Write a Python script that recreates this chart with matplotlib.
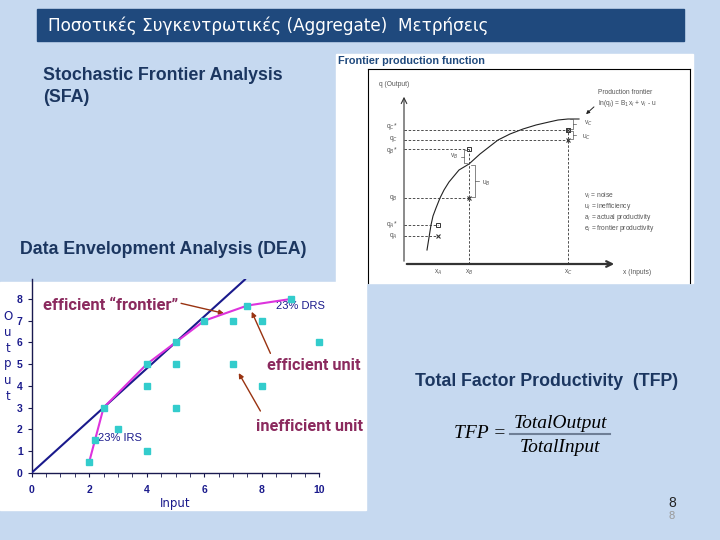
import numpy as np
import matplotlib.pyplot as plt
from matplotlib.patches import Rectangle
from matplotlib.ticker import MultipleLocator

plt.rcParams['font.family'] = ['Liberation Sans', 'DejaVu Sans']

# ---- DEA data (input / output per unit) ----
dea_input = [2, 2.2, 2.5, 3, 4, 4, 4, 5, 5, 5, 6, 7, 7, 7.5, 8, 8, 9, 10]
dea_output = [0.5, 1.5, 3, 2, 5, 4, 1, 6, 5, 3, 7, 7, 5, 7.7, 7, 4, 8, 6]
vrs_input = [2, 2.2, 2.5, 4, 5, 6, 7.5, 9]
vrs_output = [0.5, 1.5, 3, 5, 6, 7, 7.7, 8]
crs_slope = 1.2
dea_xticks = [0, 2, 4, 6, 8, 10]
dea_yticks = [0, 1, 2, 3, 4, 5, 6, 7, 8]

# ---- SFA sketch data ----
sfa_x = [2.3, 2.7, 2.9, 3.2, 3.6, 4.0, 4.5, 5.5, 6.5, 7.6, 9.4, 10.6, 11.9, 13.2, 14.5, 15.4, 16.4, 17.5]
sfa_q = [1.4, 3.9, 4.8, 5.6, 6.6, 7.4, 8.2, 9.4, 10.0, 11.0, 12.4, 13.0, 13.5, 13.9, 14.2, 14.4, 14.5, 14.5]
xA, xB, xC = 3.4, 6.5, 16.4
qA, qA_s, qB, qB_s, qC, qC_s = 2.8, 3.9, 6.6, 11.5, 12.4, 13.4
qB_front, qC_front = 10.0, 14.5

bg = '#c6d9f0'
navy = '#1b3660'
fig = plt.figure(figsize=(7.2, 5.4), dpi=100, facecolor=bg)

# overlay axes in pixel units for the slide
ax0 = fig.add_axes([0, 0, 1, 1], zorder=0)
ax0.set_xlim(0, 720)
ax0.set_ylim(540, 0)
ax0.axis('off')
ax0.add_patch(Rectangle((37, 9), 647, 32, color='#1f497d'))
ax0.text(48, 25.5, 'Ποσοτικές Συγκεντρωτικές (Aggregate)  Μετρήσεις', color='white',
         fontsize=12.2, va='center', family=['DejaVu Sans'])
ax0.add_patch(Rectangle((336, 54), 357, 229, color='white'))
ax0.add_patch(Rectangle((0, 282), 366, 228, color='white'))
ax0.text(338, 61, 'Frontier production function', color='#1f497d', fontsize=7.8,
         fontweight='bold', va='center')
ax0.text(43, 75, 'Stochastic Frontier Analysis', color=navy, fontsize=12.8,
         fontweight='bold', va='center')
ax0.text(43, 97, '(SFA)', color=navy, fontsize=12.8, fontweight='bold', va='center')
ax0.text(20, 250, 'Data Envelopment Analysis (DEA)', color=navy, fontsize=12.8,
         fontweight='bold', va='center')
ax0.text(415, 381, 'Total Factor Productivity  (TFP)', color=navy, fontsize=12.8,
         fontweight='bold', va='center')
serif = ['Liberation Serif', 'DejaVu Serif']
ax0.text(506, 434, 'TFP =', fontsize=14, style='italic', family=serif, ha='right', va='center')
ax0.text(560, 423, 'TotalOutput', fontsize=14, style='italic', family=serif, ha='center', va='center')
ax0.text(560, 448, 'TotalInput', fontsize=14, style='italic', family=serif, ha='center', va='center')
ax0.plot([510, 610], [434, 434], color='#6f7f96', lw=1.5)
ax0.text(672, 503, '8', fontsize=10, color='#222222', ha='center', va='center')
ax0.text(672, 516, '8', fontsize=8, color='#999999', ha='center', va='center')
for i, ch in enumerate('Output'):
    ax0.text(8, 316 + i * 16, ch, fontsize=8.5, color='#1a1a8c', ha='center', va='center',
             family=['DejaVu Sans'])

# ---- SFA sketch ----
ax1 = fig.add_axes([368 / 720, 1 - 283 / 540, 322 / 720, 214 / 540], zorder=1)
ax1.set_facecolor('none')
ax1.set_xlim(-3.6, 28.6)
ax1.set_ylim(-1.9, 19.5)
ax1.set_xticks([])
ax1.set_yticks([])
ax1.spines['bottom'].set_visible(False)
for s in ['left', 'top', 'right']:
    ax1.spines[s].set_linewidth(0.8)
g = '#555555'
ax1.annotate('', xy=(0, 17.0), xytext=(0, 0), arrowprops=dict(arrowstyle='->', color='#333333', lw=0.8))
ax1.annotate('', xy=(21.3, 0), xytext=(0, 0), arrowprops=dict(arrowstyle='->', color='#333333', lw=1.6))
ax1.plot(sfa_x, sfa_q, color='#222222', lw=0.8)
dash = dict(color='#333333', lw=0.6, ls=(0, (3, 2)))
for xp, qp in [(xA, qA), (xA, qA_s), (xB, qB), (xB, qB_s), (xC, qC), (xC, qC_s)]:
    ax1.plot([0, xp], [qp, qp], **dash)
ax1.plot([xB, xB], [0, qB_s], **dash)
ax1.plot([xC, xC], [0, qC_s], **dash)
ax1.plot([xA, xB, xC], [qA, qB, qC], 'x', color='#333333', ms=3, mew=0.8)
ax1.plot([xA, xB, xC], [qA_s, qB_s, qC_s], 's', mfc='none', mec='#333333', ms=3, mew=0.7)
ax1.plot([xC], [qC_s], 'x', color='#333333', ms=3, mew=0.7)


def brace(ax, x, q0, q1, d):
    ax.plot([x, x + d, x + d, x], [q0, q0, q1, q1], color=g, lw=0.5)
    qm = (q0 + q1) / 2
    ax.plot([x + d, x + 2 * d], [qm, qm], color=g, lw=0.5)


brace(ax1, xB - 0.2, qB_s - 0.1, qB_front + 0.1, -0.3)
brace(ax1, xB + 0.2, qB + 0.1, qB_front - 0.1, 0.4)
brace(ax1, xC + 0.2, qC_s + 0.1, qC_front, 0.3)
brace(ax1, xC + 0.2, qC + 0.1, qC_s - 0.1, 0.3)
fs = 4.8
ax1.text(5.0, 10.8, 'v$_B$', fontsize=fs, color=g, ha='center', va='center')
ax1.text(8.2, 8.1, 'u$_B$', fontsize=fs, color=g, ha='center', va='center')
ax1.text(18.4, 14.1, 'v$_C$', fontsize=fs, color=g, ha='center', va='center')
ax1.text(18.2, 12.7, 'u$_C$', fontsize=fs, color=g, ha='center', va='center')
for lab, qp in [('q$_C$*', qC_s + 0.4), ('q$_C$', qC + 0.05), ('q$_B$*', qB_s - 0.2), ('q$_B$', qB),
                ('q$_A$*', qA_s), ('q$_A$', qA)]:
    ax1.text(-0.6, qp, lab, fontsize=fs, color=g, ha='right', va='center')
for lab, xp in [('x$_A$', xA), ('x$_B$', xB), ('x$_C$', xC)]:
    ax1.text(xp, -0.8, lab, fontsize=fs, color=g, ha='center', va='center')
ax1.text(-2.5, 18.0, 'q (Output)', fontsize=fs, color=g, va='center')
ax1.text(21.9, -0.8, 'x (Inputs)', fontsize=fs, color=g, va='center')
ax1.text(19.4, 17.5, 'Production frontier\nln(q$_i$) = B$_1$x$_i$ + v$_i$ - u', fontsize=fs,
         color=g, va='top', linespacing=1.3)
ax1.annotate('', xy=(18.0, 14.8), xytext=(19.2, 15.9),
             arrowprops=dict(arrowstyle='-|>', color='#222222', lw=0.7, mutation_scale=5))
legend_lines = ['v$_i$ = noise', 'u$_i$ = inefficiency', 'a$_i$ = actual productivity',
                'e$_i$ = frontier productivity']
ax1.text(18.0, 7.3, '\n'.join(legend_lines), fontsize=fs, color=g, va='top', linespacing=1.0)

# ---- DEA chart ----
ax2 = fig.add_axes([31.7 / 720, 1 - 472.7 / 540, 287.6 / 720, 8.9 * 21.71 / 540], zorder=2)
ax2.set_facecolor('none')
ax2.set_xlim(0, 10)
ax2.set_ylim(0, 8.9)
ax2.spines['top'].set_visible(False)
ax2.spines['right'].set_visible(False)
for s in ['left', 'bottom']:
    ax2.spines[s].set_color('#1a1a50')
    ax2.spines[s].set_linewidth(1.0)
ax2.set_xticks(dea_xticks)
ax2.set_yticks(dea_yticks)
ax2.xaxis.set_minor_locator(MultipleLocator(0.5))
ax2.tick_params(axis='both', which='both', length=3, color='#1a1a50', labelcolor='#1a1a8c',
                labelsize=7.5)
ax2.tick_params(axis='x', which='major', pad=6)
for lab in ax2.get_xticklabels() + ax2.get_yticklabels():
    lab.set_fontweight('bold')
ax2.set_xlabel('Input', fontsize=8.5, color='#1a1a8c', labelpad=1, family=['DejaVu Sans'])
ax2.axline((0, 0), slope=crs_slope, color='#1a1a8c', lw=1.5, zorder=3)
ax2.plot(vrs_input, vrs_output, color='#dd33dd', lw=1.5, zorder=4)
ax2.plot(dea_input, dea_output, 's', color='#33cccc', ms=4, clip_on=False, zorder=5)

maroon = '#8b2a5e'
arrow_c = '#993311'
ann = ['Roboto', 'DejaVu Sans']
ax2.text(0.41, 7.68, 'efficient \u201cfrontier\u201d', color=maroon, fontsize=11.9,
         fontweight='bold', va='center', family=ann)
ax2.text(8.17, 4.92, 'efficient unit', color=maroon, fontsize=11.7, fontweight='bold',
         va='center', family=ann)
ax2.text(7.8, 2.12, 'inefficient unit', color=maroon, fontsize=11.7, fontweight='bold',
         va='center', family=ann)
ax2.text(8.49, 7.68, '23% DRS', color='#1a1a8c', fontsize=8, va='center')
ax2.text(2.32, 1.58, '23% IRS', color='#1a1a8c', fontsize=8, va='center')
ap = dict(arrowstyle='-|>', color=arrow_c, lw=1.0, mutation_scale=7)
ax2.annotate('', xy=(6.78, 7.31), xytext=(5.1, 7.83), arrowprops=ap, annotation_clip=False)
ax2.annotate('', xy=(7.61, 7.53), xytext=(8.34, 5.38), arrowprops=ap, annotation_clip=False)
ax2.annotate('', xy=(7.15, 4.70), xytext=(8.0, 2.73), arrowprops=ap, annotation_clip=False)

fig.savefig('out.png', dpi=100, facecolor=bg)
